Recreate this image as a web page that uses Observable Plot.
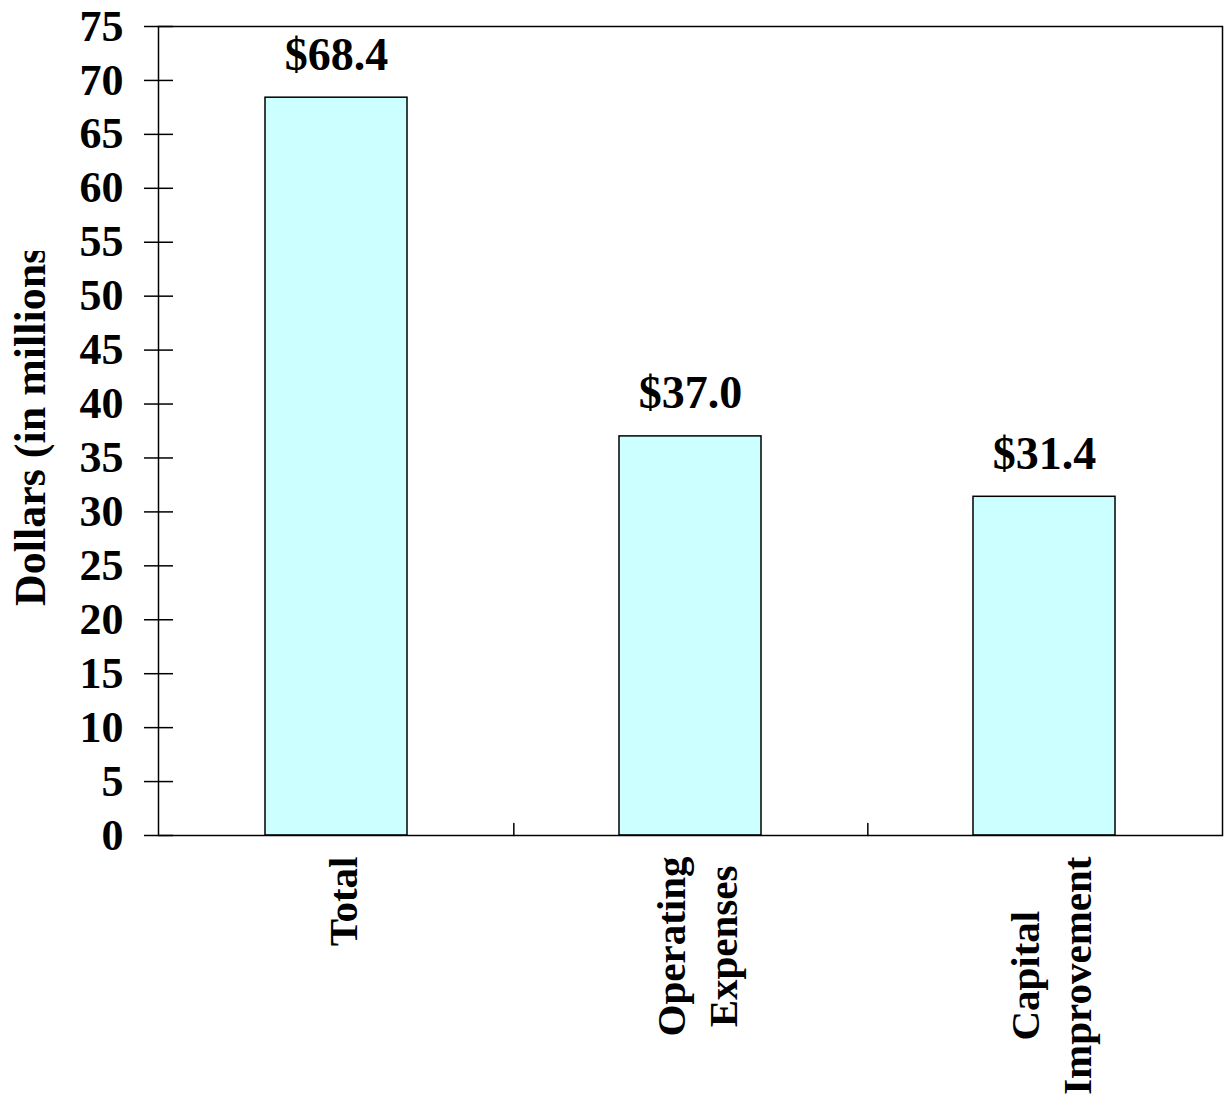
<!DOCTYPE html>
<html>
<head>
<meta charset="utf-8">
<script src="https://cdn.jsdelivr.net/npm/d3@7"></script>
<script src="https://cdn.jsdelivr.net/npm/@observablehq/plot@0.6"></script>
<style>
  html, body { margin: 0; padding: 0; background: #fff; }
  #chart svg { display: block; }
</style>
</head>
<body>
<div id="chart"></div>
<script>
const categories = ["Total", "Operating Expenses", "Capital Improvement"];
const categoryLabels = ["Total", "Operating\nExpenses", "Capital\nImprovement"];
const values = [68.4, 37.0, 31.4];
const yTicks = [0, 5, 10, 15, 20, 25, 30, 35, 40, 45, 50, 55, 60, 65, 70, 75];
const yLabel = "Dollars (in millions)";

const data = categories.map((c, i) => ({category: c, value: values[i], label: categoryLabels[i]}));

const W = 1230, H = 1099;
const mL = 158, mR = 8, mT = 26, mB = 264;
const step = (W - mL - mR) / categories.length;
const fontFamily = "'Liberation Serif', 'Times New Roman', serif";
const catFont = 41;

// measure the longest line of each category label (labels are top-aligned, lines centred)
const ctx = document.createElement("canvas").getContext("2d");
ctx.font = `bold ${catFont}px 'Liberation Serif'`;
const longest = s => Math.max(...s.split("\n").map(l => ctx.measureText(l).width));

const categoryMarks = data.map(d => Plot.text([d], {
  x: "category", text: "label", frameAnchor: "bottom", rotate: -90,
  textAnchor: "middle", lineAnchor: "middle", lineHeight: 1.27,
  fontSize: catFont, dx: 4, dy: 21 + longest(d.label) / 2, fill: "#000"
}));

const chart = Plot.plot({
  width: W,
  height: H,
  marginLeft: mL,
  marginRight: mR,
  marginTop: mT,
  marginBottom: mB,
  style: {fontFamily, fontSize: "44px", fontWeight: "bold", color: "#000", background: "#fff"},
  x: {domain: categories, paddingInner: 0.6, paddingOuter: 0.3},
  y: {domain: [0, 75], ticks: yTicks},
  marks: [
    Plot.barY(data, {x: "category", y: "value", fill: "#ccffff", stroke: "#000", strokeWidth: 1.5}),
    Plot.frame({stroke: "#000", strokeWidth: 1.5}),
    Plot.axisY({ticks: yTicks, tickSize: 14, tickPadding: 21, label: null, strokeWidth: 1.5, fill: "#000"}),
    Plot.axisY({ticks: yTicks, tickSize: -15, tickFormat: () => "", label: null, strokeWidth: 1.5}),
    Plot.axisX({ticks: [], label: null}),
    ...categoryMarks,
    Plot.vector(categories.slice(0, -1), {
      x: d => d, y: () => 0, length: 12, anchor: "start", rotate: 0, dx: step / 2,
      stroke: "#000", strokeWidth: 1.5,
      shape: {draw(c, l) { c.moveTo(0, 0); c.lineTo(0, -l); }}
    }),
    Plot.text(data, {x: "category", y: "value", text: d => "$" + d.value.toFixed(1), lineAnchor: "bottom", dy: -28, fontSize: 46, fill: "#000"}),
    Plot.text([yLabel], {text: d => d, frameAnchor: "left", rotate: -90, dx: -128, dy: -12, lineAnchor: "middle", textAnchor: "middle", fill: "#000"})
  ]
});

document.getElementById("chart").appendChild(chart);

// Clip the y-axis title the way the original is cut off at the top
const svg = d3.select(chart);
const defs = svg.insert("defs", ":first-child");
defs.append("clipPath").attr("id", "ylab-clip")
  .append("rect").attr("x", 0).attr("y", 251).attr("width", mL).attr("height", H - 251);
svg.selectAll("text")
  .filter(function () { return this.textContent === yLabel; })
  .each(function () {
    const g = this.parentNode;
    const wrap = svg.append("g").attr("clip-path", "url(#ylab-clip)");
    wrap.node().appendChild(g);
  });
</script>
</body>
</html>
